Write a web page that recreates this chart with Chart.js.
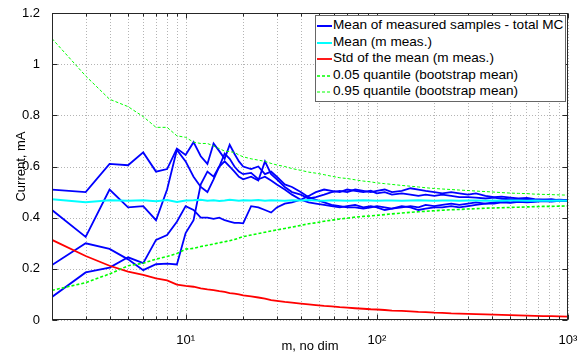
<!DOCTYPE html>
<html><head><meta charset="utf-8">
<script src="https://cdn.jsdelivr.net/npm/chart.js@4/dist/chart.umd.min.js"></script>
<style>
html,body{margin:0;padding:0;background:#fff;}
#wrap{position:relative;width:588px;height:356px;}
#legend{position:absolute;left:315px;top:15px;width:249px;height:84px;border:1px solid #666;background:#fff;
  font:13.6px 'Liberation Sans',Arial,sans-serif;color:#000;box-sizing:content-box;padding-top:1px;}
.row{height:16.6px;line-height:16.6px;white-space:nowrap;position:relative;}
.row svg{position:absolute;left:1px;top:7px;}
.row span{position:absolute;left:17px;top:0;}
</style></head><body>
<div id="wrap"><canvas id="c" width="588" height="356"></canvas><div id="legend"></div></div>
<script>
// number of measurements m
const mValues = [2,3,4,5,6,7,8,9,10,11,12,13,14,15,16,17,18,19,20,22,24,26,28,30,33,36,40,44,48,53,58,64,70,77,85,93,100,110,120,135,150,165,180,200,220,245,270,300,330,370,410,450,500,550,610,670,740,820,900,1000];

// Monte Carlo runs: mean of measured samples
const mcRun1 = [0.51,0.50,0.61,0.605,0.655,0.58,0.59,0.67,0.645,0.695,0.64,0.61,0.69,0.66,0.63,0.685,0.65,0.62,0.60,0.59,0.60,0.57,0.58,0.56,0.53,0.52,0.50,0.48,0.47,0.46,0.45,0.445,0.44,0.44,0.435,0.44,0.445,0.44,0.435,0.44,0.445,0.44,0.45,0.445,0.45,0.455,0.45,0.455,0.46,0.455,0.46,0.465,0.46,0.465,0.462,0.465,0.468,0.465,0.467,0.466];
const mcRun2 = [0.43,0.325,0.51,0.44,0.445,0.39,0.51,0.665,0.62,0.56,0.52,0.50,0.55,0.60,0.62,0.60,0.58,0.56,0.55,0.56,0.545,0.62,0.57,0.55,0.52,0.50,0.49,0.475,0.48,0.49,0.50,0.505,0.50,0.51,0.505,0.50,0.505,0.51,0.50,0.505,0.515,0.51,0.505,0.50,0.495,0.50,0.495,0.49,0.495,0.485,0.48,0.482,0.478,0.475,0.477,0.472,0.47,0.472,0.468,0.468];
const mcRun3 = [0.215,0.30,0.278,0.237,0.195,0.218,0.22,0.217,0.34,0.39,0.53,0.58,0.56,0.60,0.65,0.63,0.60,0.58,0.57,0.575,0.55,0.56,0.545,0.53,0.51,0.49,0.47,0.46,0.455,0.45,0.445,0.44,0.445,0.45,0.44,0.445,0.44,0.43,0.435,0.445,0.44,0.43,0.435,0.44,0.44,0.445,0.44,0.445,0.45,0.455,0.455,0.46,0.458,0.462,0.46,0.462,0.465,0.463,0.466,0.465];
const mcRun4 = [0.09,0.186,0.205,0.245,0.222,0.313,0.332,0.384,0.445,0.43,0.40,0.40,0.395,0.40,0.39,0.385,0.38,0.38,0.378,0.445,0.44,0.43,0.42,0.44,0.455,0.46,0.47,0.485,0.50,0.51,0.505,0.50,0.51,0.505,0.50,0.505,0.495,0.50,0.49,0.495,0.49,0.485,0.49,0.485,0.49,0.485,0.48,0.48,0.478,0.475,0.478,0.474,0.472,0.47,0.472,0.469,0.47,0.468,0.47,0.468];

// Mean (m meas.)
const meanM = [0.472,0.46,0.468,0.466,0.468,0.464,0.469,0.461,0.467,0.468,0.47,0.466,0.468,0.465,0.467,0.47,0.468,0.466,0.468,0.467,0.469,0.466,0.468,0.467,0.466,0.468,0.467,0.469,0.467,0.466,0.468,0.467,0.466,0.467,0.468,0.467,0.466,0.467,0.467,0.466,0.467,0.468,0.467,0.466,0.467,0.467,0.466,0.467,0.467,0.466,0.467,0.466,0.467,0.467,0.466,0.467,0.466,0.466,0.467,0.466];
// Std of the mean (m meas.)
const stdMean = [0.313,0.25,0.212,0.189,0.176,0.163,0.155,0.138,0.133,0.13,0.124,0.12,0.117,0.113,0.11,0.105,0.103,0.1,0.096,0.092,0.088,0.084,0.078,0.075,0.071,0.068,0.064,0.061,0.058,0.055,0.053,0.05,0.048,0.046,0.044,0.042,0.041,0.039,0.037,0.036,0.034,0.032,0.031,0.029,0.028,0.026,0.025,0.024,0.023,0.022,0.021,0.02,0.019,0.018,0.017,0.0165,0.0155,0.015,0.014,0.0135];
// bootstrap quantiles
const q05 = [0.116,0.146,0.18,0.212,0.222,0.238,0.248,0.26,0.277,0.28,0.287,0.292,0.297,0.302,0.306,0.31,0.315,0.32,0.326,0.332,0.338,0.343,0.348,0.352,0.358,0.363,0.37,0.376,0.38,0.386,0.39,0.395,0.398,0.402,0.405,0.407,0.409,0.412,0.415,0.418,0.421,0.423,0.425,0.427,0.429,0.431,0.432,0.434,0.435,0.437,0.438,0.439,0.44,0.441,0.442,0.443,0.444,0.444,0.445,0.446];
const q95 = [1.10,0.954,0.863,0.834,0.795,0.753,0.753,0.72,0.714,0.695,0.69,0.69,0.68,0.67,0.66,0.658,0.655,0.645,0.638,0.63,0.625,0.62,0.612,0.606,0.6,0.592,0.585,0.578,0.574,0.568,0.562,0.556,0.553,0.548,0.543,0.54,0.536,0.533,0.53,0.526,0.523,0.52,0.517,0.514,0.512,0.51,0.508,0.506,0.504,0.502,0.5,0.498,0.496,0.495,0.494,0.492,0.491,0.49,0.489,0.488];

const xTickValues = [2,3,4,5,6,7,8,9,10,20,30,40,50,60,70,80,90,100,200,300,400,500,600,700,800,900,1000];
const xTickLabels = {10:'10\u00B9',100:'10\u00B2',1000:'10\u00B3'};
const yTickValues = [0,0.2,0.4,0.6,0.8,1.0,1.2];

const legendLabels = ['Mean of measured samples - total MC','Mean (m meas.)','Std of the mean (m meas.)','0.05 quantile (bootstrap mean)','0.95 quantile (bootstrap mean)'];
const legendColors = ['#0000ff','#00ffff','#ff0000','#00ff00','#00ff00'];
const legendWidths = [2,2,1.8,1.6,1];
const legendDash = [null,null,null,'3,2','3,2'];

const pts = arr => mValues.map((m,i)=>({x:m,y:arr[i]}));

const ds = (label, arr, color, width, dash, order) => ({
  label, data: pts(arr), borderColor: color, borderWidth: width, borderDash: dash || [],
  pointRadius: 0, fill: false, tension: 0, order
});

const datasets = [
  ds('MC1', mcRun1, '#0000ff', 1.8, null, 6),
  ds('MC2', mcRun2, '#0000ff', 1.8, null, 6),
  ds('MC3', mcRun3, '#0000ff', 1.8, null, 6),
  ds('MC4', mcRun4, '#0000ff', 1.8, null, 6),
  ds(legendLabels[1], meanM, '#00ffff', 2, null, 3),
  ds(legendLabels[2], stdMean, '#ff0000', 1.8, null, 2),
  ds(legendLabels[3], q05, '#00ff00', 1.6, [3,2], 1),
  ds(legendLabels[4], q95, '#00ff00', 1, [3,2], 0)
];

// dotted grid drawn under the data, positions from the chart scales
const gridPlugin = {
  id: 'dottedGrid',
  beforeDatasetsDraw(chart) {
    const {ctx, chartArea: a, scales: {x, y}} = chart;
    ctx.save();
    ctx.strokeStyle = '#b4b4b4'; ctx.lineWidth = 1; ctx.setLineDash([1, 2]);
    ctx.beginPath();
    xTickValues.forEach(v => {
      const px = Math.round(x.getPixelForValue(v)) + 0.5;
      ctx.moveTo(px, a.bottom); ctx.lineTo(px, a.top);
    });
    yTickValues.forEach(v => {
      const py = Math.round(y.getPixelForValue(v)) + 0.5;
      ctx.moveTo(a.left, py); ctx.lineTo(a.right, py);
    });
    ctx.stroke();
    ctx.restore();
  }
};

const framePlugin = {
  id: 'frame',
  afterDraw(chart) {
    const {ctx, chartArea: a, scales: {x, y}} = chart;
    ctx.save();
    ctx.strokeStyle = '#262626'; ctx.lineWidth = 1;
    const L = Math.round(a.left)+0.5, R = Math.round(a.right)-0.5, T = Math.round(a.top)+0.5, B = Math.round(a.bottom)-0.5;
    ctx.strokeRect(L, T, R-L, B-T);
    ctx.beginPath();
    xTickValues.forEach(v => {
      const px = Math.round(x.getPixelForValue(v))+0.5;
      const len = xTickLabels[v] ? 5 : 3;
      ctx.moveTo(px, B); ctx.lineTo(px, B-len);
      ctx.moveTo(px, T); ctx.lineTo(px, T+len);
    });
    yTickValues.forEach(v => {
      const py = Math.round(y.getPixelForValue(v))+0.5;
      ctx.moveTo(L, py); ctx.lineTo(L+5, py);
      ctx.moveTo(R, py); ctx.lineTo(R-5, py);
    });
    ctx.stroke();
    ctx.restore();
  }
};

Chart.defaults.font.family = "'Liberation Sans', Arial, sans-serif";
Chart.defaults.font.size = 13;
Chart.defaults.color = '#000';

new Chart(document.getElementById('c'), {
  type: 'line',
  data: { datasets },
  options: {
    responsive: false, animation: false, devicePixelRatio: 1, events: [],
    layout: { padding: { left: 0, right: 20, top: 13, bottom: 0 } },
    plugins: { legend: { display: false }, tooltip: { enabled: false } },
    scales: {
      x: {
        type: 'logarithmic', min: 2, max: 1000,
        afterFit(s) { s.height = 36; },
        afterBuildTicks(s) { s.ticks = xTickValues.map(v => ({ value: v })); },
        ticks: { autoSkip: false, maxRotation: 0, padding: 5, callback: v => xTickLabels[v] || '' },
        grid: { display: false },
        border: { display: false },
        title: { display: true, text: 'm, no dim', padding: { top: 0, bottom: 2 } }
      },
      y: {
        min: 0, max: 1.2,
        afterFit(s) { s.width = 52; },
        afterBuildTicks(s) { s.ticks = yTickValues.map(v => ({ value: v })); },
        ticks: { padding: 4, callback: v => String(Math.round(v*10)/10) },
        grid: { display: false },
        border: { display: false },
        title: { display: true, text: 'Current, mA', padding: { top: 14, bottom: 0 } }
      }
    }
  },
  plugins: [gridPlugin, framePlugin]
});

// legend (real text)
const lg = document.getElementById('legend');
legendLabels.forEach((t, i) => {
  const row = document.createElement('div'); row.className = 'row';
  const dash = legendDash[i] ? ` stroke-dasharray="${legendDash[i]}"` : '';
  row.innerHTML = `<svg width="15" height="4"><line x1="0" y1="2" x2="15" y2="2" stroke="${legendColors[i]}" stroke-width="${legendWidths[i]}"${dash}/></svg><span>${t}</span>`;
  lg.appendChild(row);
});
</script>
</body></html>
